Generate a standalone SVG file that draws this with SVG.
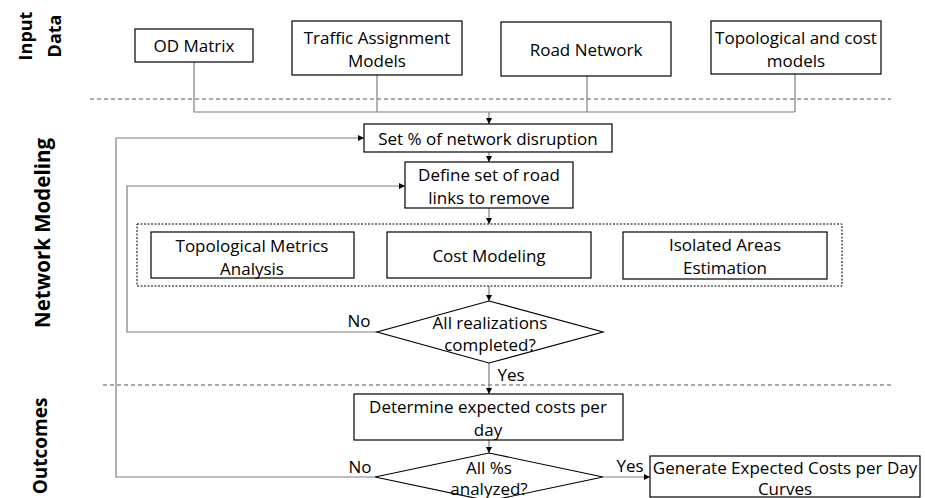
<svg xmlns="http://www.w3.org/2000/svg" width="925" height="498" viewBox="0 0 925 498">
  <style>
    .box { fill: #ffffff; stroke: #000000; stroke-width: 1.2; }
    .lbl { font-family: "Open Sans", "Liberation Sans", sans-serif; font-size: 17px; fill: #000000; text-anchor: middle; dominant-baseline: central; }
    .sec { font-family: "Open Sans", "Liberation Sans", sans-serif; font-size: 20.5px; font-weight: bold; fill: #000000; text-anchor: middle; dominant-baseline: central; }
    .sec-sm { font-size: 18px; }
    .sec-out { font-size: 19px; }
    .wire { fill: none; stroke: #7f7f7f; stroke-width: 1.2; }
    .flow { fill: none; stroke: #7f7f7f; stroke-width: 1.2; marker-end: url(#arrow); }
    .sep { fill: none; stroke: #555555; stroke-width: 1; stroke-dasharray: 4 3; }
    .group { fill: none; stroke: #000000; stroke-width: 1; stroke-dasharray: 2 1.5; }
  </style>
  <defs>
    <marker id="arrow" viewBox="0 0 10 10" refX="10" refY="5" markerWidth="6" markerHeight="6" markerUnits="userSpaceOnUse" orient="auto">
      <path d="M0,0 L10,5 L0,10 z" fill="#000000"/>
    </marker>
  </defs>

  <rect width="925" height="498" fill="#ffffff"/>

  <!-- section labels -->
  <g id="section-labels">
    <text class="sec sec-sm" transform="translate(25,36) rotate(-90)">Input</text>
    <text class="sec sec-sm" transform="translate(54,36) rotate(-90)">Data</text>
    <text class="sec" transform="translate(42,233) rotate(-90)">Network Modeling</text>
    <text class="sec sec-out" transform="translate(40,446) rotate(-90)">Outcomes</text>
  </g>

  <!-- section separators -->
  <g id="separators">
    <line class="sep" x1="90" y1="99" x2="891" y2="99"/>
    <line class="sep" x1="103" y1="385" x2="891" y2="385"/>
  </g>

  <!-- connectors -->
  <g id="connectors">
    <polyline class="wire" points="194,62 194,112 795,112"/>
    <line class="wire" x1="377" y1="75" x2="377" y2="112"/>
    <line class="wire" x1="587" y1="76" x2="587" y2="112"/>
    <line class="wire" x1="795" y1="74" x2="795" y2="112"/>
    <line class="flow" x1="489" y1="112" x2="489" y2="124"/>
    <line class="flow" x1="489" y1="152" x2="489" y2="162"/>
    <line class="flow" x1="489" y1="208" x2="489" y2="224"/>
    <line class="flow" x1="489" y1="286" x2="489" y2="301"/>
    <line class="flow" x1="489" y1="363" x2="489" y2="394"/>
    <line class="flow" x1="489" y1="440" x2="489" y2="453"/>
    <polyline class="flow" points="377,332 127,332 127,186 405,186"/>
    <polyline class="flow" points="375,477 116,477 116,138 364,138"/>
    <line class="flow" x1="603" y1="477" x2="650" y2="477"/>
    <text class="lbl" x="359" y="320">No</text>
    <text class="lbl" x="511" y="374">Yes</text>
    <text class="lbl" x="360" y="466">No</text>
    <text class="lbl" x="630" y="465">Yes</text>
  </g>

  <!-- input data -->
  <g id="od-matrix">
    <rect class="box" x="135" y="29" width="118" height="33"/>
    <text class="lbl" x="194" y="45.5">OD Matrix</text>
  </g>
  <g id="traffic-assignment">
    <rect class="box" x="292" y="21" width="170" height="54"/>
    <text class="lbl" x="377" y="37">Traffic Assignment</text>
    <text class="lbl" x="377" y="60">Models</text>
  </g>
  <g id="road-network">
    <rect class="box" x="501" y="22" width="170" height="54"/>
    <text class="lbl" x="586" y="49">Road Network</text>
  </g>
  <g id="topo-cost-models">
    <rect class="box" x="711" y="21" width="170" height="53"/>
    <text class="lbl" x="796" y="37">Topological and cost</text>
    <text class="lbl" x="796" y="60">models</text>
  </g>

  <!-- network modeling -->
  <g id="set-disruption">
    <rect class="box" x="364" y="124" width="248" height="28"/>
    <text class="lbl" x="488" y="138">Set % of network disruption</text>
  </g>
  <g id="define-links">
    <rect class="box" x="405" y="162" width="168" height="46"/>
    <text class="lbl" x="489" y="174">Define set of road</text>
    <text class="lbl" x="489" y="197">links to remove</text>
  </g>
  <g id="analysis-group">
    <rect class="group" x="137" y="224" width="705" height="62"/>
  </g>
  <g id="topological-metrics">
    <rect class="box" x="151" y="232" width="203" height="46"/>
    <text class="lbl" x="252" y="245">Topological Metrics</text>
    <text class="lbl" x="252" y="268">Analysis</text>
  </g>
  <g id="cost-modeling">
    <rect class="box" x="387" y="232" width="204" height="46"/>
    <text class="lbl" x="489" y="255">Cost Modeling</text>
  </g>
  <g id="isolated-areas">
    <rect class="box" x="623" y="232" width="204" height="47"/>
    <text class="lbl" x="725" y="244">Isolated Areas</text>
    <text class="lbl" x="725" y="267">Estimation</text>
  </g>
  <g id="realizations-check">
    <polygon class="box" points="489,301 603,332 489,363 377,332"/>
    <text class="lbl" x="490" y="322">All realizations</text>
    <text class="lbl" x="490" y="344">completed?</text>
  </g>

  <!-- outcomes -->
  <g id="expected-costs">
    <rect class="box" x="354" y="394" width="269" height="46"/>
    <text class="lbl" x="488" y="406">Determine expected costs per</text>
    <text class="lbl" x="488" y="429">day</text>
  </g>
  <g id="percent-check">
    <polygon class="box" points="489,453 603,477 489,501 375,477"/>
    <text class="lbl" x="489" y="467">All %s</text>
    <text class="lbl" x="489" y="488">analyzed?</text>
  </g>
  <g id="generate-curves">
    <rect class="box" x="650" y="456" width="270" height="41"/>
    <text class="lbl" x="785" y="467">Generate Expected Costs per Day</text>
    <text class="lbl" x="785" y="488">Curves</text>
  </g>
</svg>
